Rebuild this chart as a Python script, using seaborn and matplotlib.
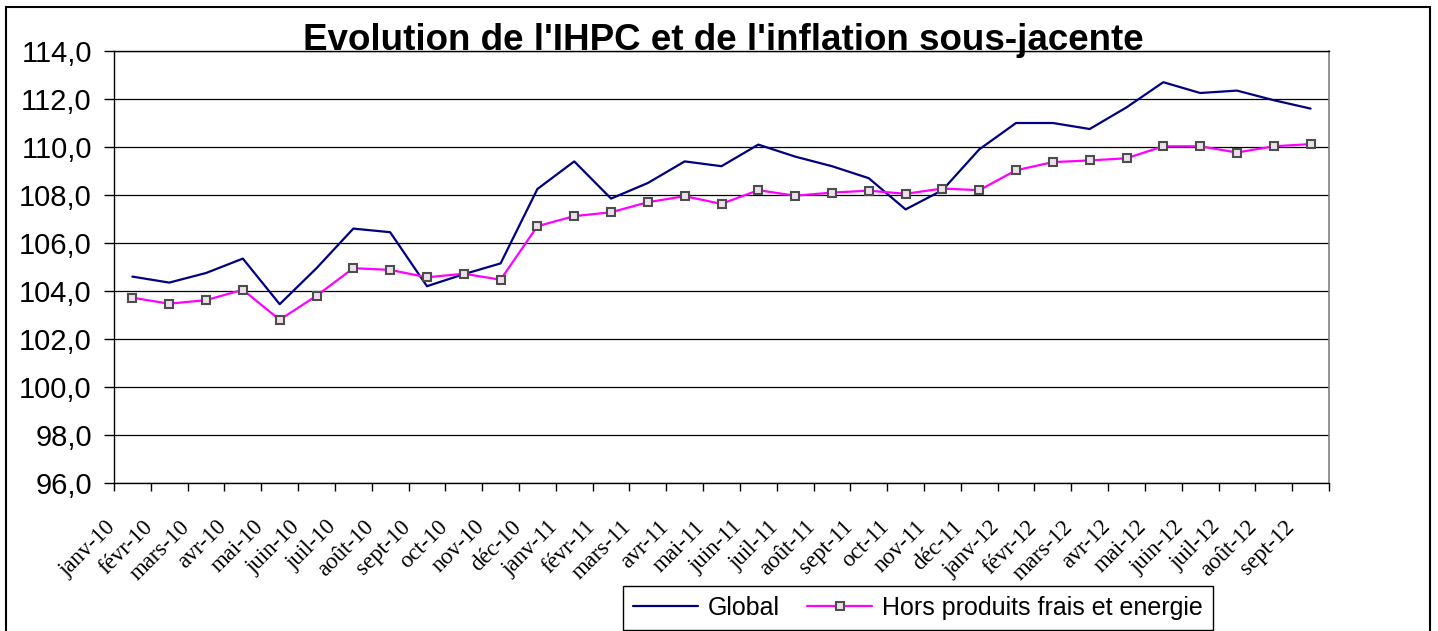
import numpy as np
import pandas as pd
import matplotlib
matplotlib.use('Agg')
import matplotlib.pyplot as plt
import matplotlib.patches as mpatches
from matplotlib.ticker import FuncFormatter, FixedLocator
from matplotlib.transforms import ScaledTranslation
import seaborn as sns

# Data
months = ['janv-10', 'févr-10', 'mars-10', 'avr-10', 'mai-10', 'juin-10',
          'juil-10', 'août-10', 'sept-10', 'oct-10', 'nov-10', 'déc-10',
          'janv-11', 'févr-11', 'mars-11', 'avr-11', 'mai-11', 'juin-11',
          'juil-11', 'août-11', 'sept-11', 'oct-11', 'nov-11', 'déc-11',
          'janv-12', 'févr-12', 'mars-12', 'avr-12', 'mai-12', 'juin-12',
          'juil-12', 'août-12', 'sept-12']

global_idx = [104.6, 104.35, 104.75, 105.35, 103.45, 104.95, 106.6, 106.45,
              104.2, 104.7, 105.15, 108.25, 109.4, 107.85, 108.5, 109.4,
              109.2, 110.1, 109.6, 109.2, 108.7, 107.4, 108.2, 109.9,
              111.0, 111.0, 110.75, 111.65, 112.7, 112.25, 112.35, 111.95, 111.6]

hors_pfe = [103.72, 103.47, 103.62, 104.05, 102.8, 103.8, 104.95, 104.88,
            104.57, 104.72, 104.47, 106.7, 107.12, 107.28, 107.7, 107.95,
            107.63, 108.2, 107.97, 108.1, 108.18, 108.05, 108.27, 108.2,
            109.03, 109.37, 109.44, 109.53, 110.03, 110.03, 109.77, 110.03, 110.12]

series_names = ['Global', 'Hors produits frais et energie']
y_ticks = [96, 98, 100, 102, 104, 106, 108, 110, 112, 114]

df = pd.DataFrame({'pos': np.arange(len(months)), 'mois': months,
                   'global': global_idx, 'hors': hors_pfe})

sns.set_style('white')
plt.rcParams['font.family'] = ['Liberation Sans', 'DejaVu Sans']
plt.rcParams['text.color'] = 'black'
plt.rcParams['xtick.color'] = 'black'
plt.rcParams['ytick.color'] = 'black'

fig = plt.figure(figsize=(14.38, 6.31), dpi=100)
ax = fig.add_axes([114 / 1438, 1 - 483 / 631, (1329 - 114) / 1438, (483 - 51) / 631])

sns.lineplot(data=df, x='pos', y='global', ax=ax, color='#000080', lw=1.6,
             label=series_names[0], sort=False)
sns.lineplot(data=df, x='pos', y='hors', ax=ax, color='#FF00FF', lw=1.6,
             marker='s', markersize=6, markeredgecolor='#4d4d4d',
             markerfacecolor='#f0e0ee', markeredgewidth=1.5,
             label=series_names[1], sort=False)

ax.set_xlim(-0.5, len(months) - 0.5)
ax.set_ylim(96, 114)
ax.set_yticks(y_ticks)
ax.yaxis.set_major_formatter(FuncFormatter(lambda v, p: f"{v:.1f}".replace('.', ',')))
ax.grid(axis='y', color='black', lw=0.9)
ax.set_axisbelow(True)
ax.set_xlabel('')
ax.set_ylabel('')

# labels at category centers, tick marks between categories
ax.set_xticks(df['pos'])
ax.set_xticklabels(months, rotation=45, ha='right', rotation_mode='anchor',
                   fontfamily='Liberation Serif', fontsize=16.5, color='black')
ax.xaxis.set_minor_locator(FixedLocator(np.arange(-0.5, len(months), 1.0)))
ax.tick_params(axis='x', which='major', bottom=True, length=0, pad=24)
ax.tick_params(axis='x', which='minor', bottom=True, length=6, width=1,
               color='black', direction='out')
ax.tick_params(axis='y', left=True, length=7, width=1, color='black', direction='out',
               pad=9, labelsize=21, labelcolor='black')
shift = ScaledTranslation(-27 / 100, 0, fig.dpi_scale_trans)
for lbl in ax.get_xticklabels():
    lbl.set_transform(lbl.get_transform() + shift)

for side in ['left', 'bottom', 'top']:
    ax.spines[side].set_color('black')
    ax.spines[side].set_linewidth(1.0)
ax.spines['right'].set_color('#808080')
ax.spines['right'].set_linewidth(1.2)

ax.get_legend().remove()
handles, labels = ax.get_legend_handles_labels()
leg = fig.legend(handles, labels, loc='center', bbox_to_anchor=(918 / 1438, 1 - 608 / 631),
                 ncol=2, fontsize=18, frameon=True, fancybox=False, shadow=False,
                 handlelength=2.6, handletextpad=0.4, columnspacing=1.1,
                 borderpad=0.4, edgecolor='black', framealpha=1)
leg.get_frame().set_linewidth(1.0)
for t in leg.get_texts():
    t.set_color('black')

fig.text(723 / 1438, 1 - 50 / 631, "Evolution de l'IHPC et de l'inflation sous-jacente",
         ha='center', va='baseline', fontsize=26.5, fontweight='bold', color='black')

# outer chart border
fig.patches.append(mpatches.Rectangle((6 / 1438, -0.05), 1424 / 1438, 1.05 - 7 / 631,
                                      transform=fig.transFigure, fill=False,
                                      edgecolor='black', lw=1.5, clip_on=False))

fig.savefig('out.png', dpi=100)
